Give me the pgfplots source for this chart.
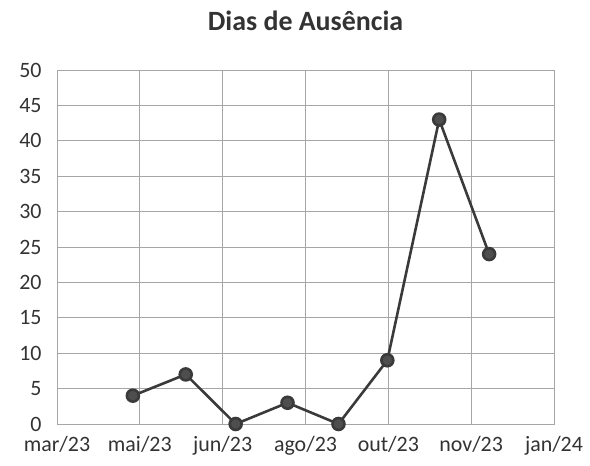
\documentclass[border=0pt]{standalone}
\usepackage{fontspec}
\setmainfont{Carlito}
\usepackage{pgfplots}
\pgfplotsset{compat=1.18}
\definecolor{gridc}{HTML}{A6A6A6}
\definecolor{linec}{HTML}{3A3A3A}
\begin{document}
\begin{tikzpicture}[x=1bp,y=1bp]
\useasboundingbox (0,0) rectangle (590,466);
\begin{axis}[
  at={(57bp,42bp)}, anchor=south west,
  scale only axis, width=497bp, height=354bp,
  xmin=0, xmax=6, ymin=0, ymax=50,
  xtick={0,1,2,3,4,5,6},
  xticklabels={mar/23,mai/23,jun/23,ago/23,out/23,nov/23,jan/24},
  ytick={0,5,...,50},
  grid=major,
  major grid style={gridc, line width=0.8pt},
  axis line style={gridc, line width=0.8pt},
  tick style={draw=none},
  ticklabel style={font=\fontsize{22}{24}\selectfont, text=black!80},
  /pgf/number format/assume math mode=true,
  xticklabel style={yshift=-9bp},
  yticklabel style={xshift=-12bp},
  title={\fontsize{28}{30}\selectfont\bfseries Dias de Ausência},
  title style={at={(0.5,1)}, yshift=30bp, text=black!80},
  clip=false,
]
\addplot[color=linec, line width=2.6pt, mark=*, mark size=6pt, mark options={fill=linec!90}] coordinates {
  (0.916,4) (1.554,7) (2.157,0) (2.783,3) (3.398,0) (3.988,9) (4.614,43) (5.217,24)
};
\end{axis}
\end{tikzpicture}
\end{document}
